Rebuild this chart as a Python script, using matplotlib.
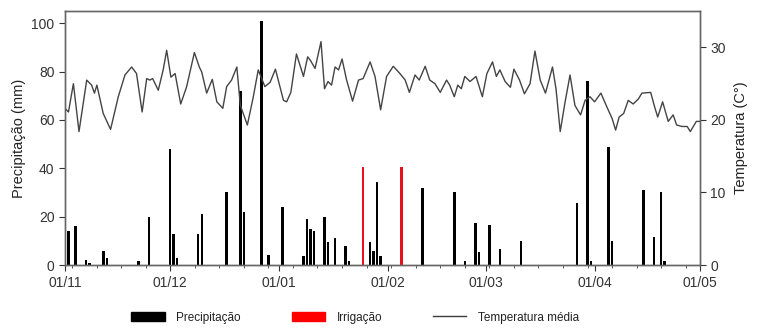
import matplotlib
matplotlib.use("Agg")
import matplotlib.pyplot as plt
from matplotlib.patches import Patch
from matplotlib.lines import Line2D
from matplotlib.ticker import FixedLocator

plt.rcParams['font.family'] = ['Liberation Sans', 'DejaVu Sans']

# days counted from 01/11
month_days = [0, 30, 61, 92, 120, 151, 181]
month_labels = ['01/11', '01/12', '01/01', '01/02', '01/03', '01/04', '01/05']

precip_days = [0, 1, 3, 6, 7, 11, 12, 21, 24, 30, 31, 32, 38, 39, 46, 50, 51, 56, 58,
               62, 68, 69, 70, 71, 74, 75, 77, 80, 81, 87, 88, 89, 90, 102, 111, 114,
               117, 118, 121, 124, 130, 146, 149, 150, 155, 156, 165, 168, 170, 171]
precip_mm = [14, 14, 16, 2, 1, 6, 3, 1.5, 20, 48, 13, 3, 13, 21, 30, 72, 22, 101, 4,
             24, 3.7, 19, 15, 14, 20, 9.6, 11, 7.8, 1.5, 9.6, 6, 34.4, 3.7, 32, 30, 1.5,
             17.5, 5.5, 16.5, 6.5, 10, 25.5, 76, 1.5, 49, 10, 31, 11.4, 30, 1.5]

irrig_days = [85, 96]
irrig_mm = [40.5, 40.5]

temp_days = [0, 1, 2.4, 4, 6.2, 7.6, 8.4, 9.1, 10.9, 13, 15.2, 17.1, 19, 20.4, 22, 23.3,
             24.2, 25, 26.6, 28, 29, 30.2, 31.4, 33, 34.7, 36.9, 38.3, 39, 40.4, 42, 43.3,
             45, 46.1, 47.5, 49, 50, 52, 53.7, 55.1, 57, 58.5, 60, 60.8, 62.3, 63.2, 64.4,
             66, 68, 69.2, 70, 71.3, 73, 74, 75, 76, 77, 78, 79, 80.3, 82, 83.7, 85, 87,
             88.4, 90, 91.7, 93.6, 95.5, 97, 98.2, 99.8, 101, 102.7, 104, 105.5, 107,
             108.8, 109.7, 111, 112, 113, 114, 115.5, 117.2, 118.3, 119, 120.3, 121.9,
             123, 124, 125.5, 127, 128, 129.6, 131, 132.6, 134, 135.5, 137, 139, 140,
             141.2, 142.6, 144, 145.4, 147, 148.3, 149.7, 151, 152.8, 154.5, 156, 157,
             158, 159.3, 160.6, 162, 163.5, 164.5, 167, 168, 169, 170.4, 172, 173.4,
             174.4, 175.9, 177.4, 178.3, 180, 181]
temp_c = [21.6, 21.1, 25.0, 18.4, 25.5, 24.8, 23.7, 24.8, 20.9, 18.7, 23.2, 26.2, 27.3,
          26.4, 21.1, 25.7, 25.5, 25.7, 24.1, 26.9, 29.6, 25.9, 26.4, 22.2, 24.6, 29.3,
          27.3, 26.6, 23.7, 25.6, 22.5, 21.6, 24.6, 25.5, 27.3, 22.0, 19.3, 23.2, 26.9,
          24.6, 25.2, 27.0, 25.5, 22.7, 22.5, 23.8, 29.1, 26.0, 28.7, 28.2, 27.1, 30.8,
          24.3, 25.3, 24.8, 27.3, 26.9, 28.4, 25.5, 22.6, 25.5, 25.7, 28.0, 26.0, 21.4,
          26.0, 27.4, 26.4, 25.5, 23.8, 26.2, 25.5, 27.4, 25.5, 25.0, 23.8, 25.5, 24.8,
          23.2, 24.8, 24.3, 26.0, 25.3, 26.0, 24.3, 23.2, 26.4, 28.0, 26.0, 26.9, 25.3,
          24.5, 27.0, 25.5, 23.6, 25.0, 29.5, 25.5, 23.7, 27.3, 24.3, 18.4, 22.5, 26.2,
          22.0, 20.7, 22.7, 23.2, 22.5, 23.7, 21.8, 20.2, 18.6, 20.4, 20.9, 22.7, 22.2,
          22.9, 23.7, 23.8, 22.0, 20.4, 22.5, 19.8, 20.7, 19.3, 19.1, 19.1, 18.4, 19.8,
          19.8]

fig = plt.figure(figsize=(7.59, 3.28), dpi=100)
ax = fig.add_axes([0.0856, 0.192, 0.8364, 0.774])
ax2 = ax.twinx()

ax.bar(precip_days, precip_mm, width=0.7, color='black', zorder=2)
ax.bar(irrig_days, irrig_mm, width=0.7, color='#e8101a', zorder=2)
ax2.plot(temp_days, temp_c, color='#444444', lw=1.0)

ax.set_xlim(0, 181)
ax.set_ylim(0, 105)
ax2.set_ylim(0, 35)

ax.set_xticks(month_days)
ax.set_xticklabels(month_labels)
ax.xaxis.set_minor_locator(FixedLocator(list(range(2, 181, 7))))
ax.set_yticks([0, 20, 40, 60, 80, 100])
ax2.set_yticks([0, 10, 20, 30])

ax.set_ylabel('Precipitação (mm)', fontsize=10.5, color='#222222', labelpad=4)
ax2.set_ylabel('Temperatura (C°)', fontsize=10.5, color='#222222', labelpad=6)

for a in (ax, ax2):
    a.tick_params(labelsize=10, colors='#333333', length=4, width=0.8)
    a.tick_params(which='minor', length=2.5, width=0.7, colors='#555555')
    for s in a.spines.values():
        s.set_color('#666666')
        s.set_linewidth(1.0)
ax.tick_params(axis='x', pad=4)

handles = [Patch(facecolor='black', edgecolor='black'),
           Patch(facecolor='#ff0000', edgecolor='#ff0000'),
           Line2D([], [], color='#3c3c3c', lw=1.0)]
fig.legend(handles, ['Precipitação', 'Irrigação', 'Temperatura média'],
           loc='center', bbox_to_anchor=(0.468, 0.032), ncol=3, frameon=False,
           fontsize=8.5, handlelength=2.8, handleheight=0.8, columnspacing=4.3,
           handletextpad=1.0, labelcolor='#222222')

fig.savefig('out.png', dpi=100)
